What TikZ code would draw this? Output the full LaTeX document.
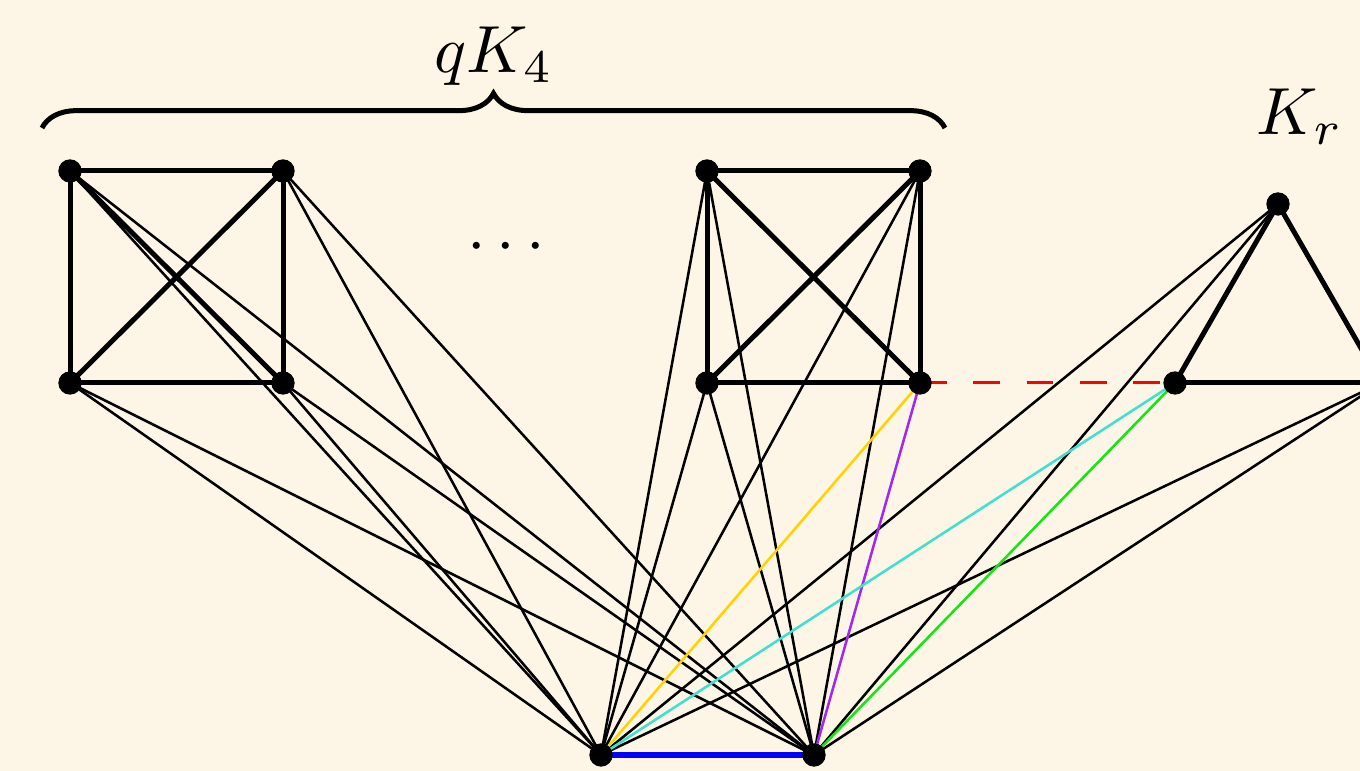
\documentclass[tikz,border=0pt]{standalone}
\usetikzlibrary{decorations.pathreplacing}
\definecolor{bgc}{RGB}{253,246,230}
\definecolor{cgold}{RGB}{255,210,0}
\definecolor{cturq}{RGB}{64,224,208}
\definecolor{clime}{RGB}{20,230,20}
\definecolor{cpurp}{RGB}{160,40,240}
\pgfdeclarelayer{bg}
\pgfdeclarelayer{edges}
\pgfsetlayers{bg,edges,main}
\tikzset{
  vert/.style={circle,fill=black,inner sep=0pt,minimum size=3.5pt},
  thinedge/.style={line width=0.38pt,black},
  thickedge/.style={line width=0.75pt,black},
  coledge/.style={line width=0.38pt},
}
\begin{document}
\begin{tikzpicture}[x=0.15pt,y=-0.15pt]
\begin{pgfonlayer}{bg}
\fill[bgc] (0,0) rectangle (1360,771);
\end{pgfonlayer}
\useasboundingbox (0,0) rectangle (1360,771);
% vertices
\node[vert] (A1) at (70,171) {};
\node[vert] (A2) at (283,171) {};
\node[vert] (A3) at (70,383) {};
\node[vert] (A4) at (283,383) {};
\node[vert] (B1) at (707,171) {};
\node[vert] (B2) at (920,171) {};
\node[vert] (B3) at (707,383) {};
\node[vert] (B4) at (920,383) {};
\node[vert] (C1) at (1278,204) {};
\node[vert] (C2) at (1175,383) {};
\node[vert] (C3) at (1381,383) {};
\node[vert] (U) at (601,755) {};
\node[vert] (V) at (814,755) {};
\begin{pgfonlayer}{edges}
% thin edges
\foreach \n in {A1,A2,A3,A4,B1,B2,B3,C1,C3}{
  \draw[thinedge] (\n.center) -- (U.center);
  \draw[thinedge] (\n.center) -- (V.center);
}
\draw[coledge,cgold] (B4.center) -- (U.center);
\draw[coledge,cpurp] (B4.center) -- (V.center);
\draw[coledge,cturq] (C2.center) -- (U.center);
\draw[coledge,clime] (C2.center) -- (V.center);
\draw[line width=0.45pt,red,dash pattern=on 4pt off 4pt] (B4.center) -- (C2.center);
\draw[line width=0.9pt,blue] (U.center) -- (V.center);
% thick edges
\foreach \a/\b in {A1/A2,A1/A3,A1/A4,A2/A3,A2/A4,A3/A4,B1/B2,B1/B3,B1/B4,B2/B3,B2/B4,B3/B4,C1/C2,C1/C3,C2/C3}{
  \draw[thickedge] (\a.center) -- (\b.center);
}
\end{pgfonlayer}
% brace and labels
\coordinate (bl) at (42,128);
\coordinate (br) at (945,128);
\draw[line width=0.75pt,decorate,decoration={brace,amplitude=5.2pt}] (bl) -- (br);
\node[anchor=base,inner sep=0pt] (qk) at (494,73) {$qK_4$};
\node[anchor=base,inner sep=0pt] (kr) at (1300,135) {$K_r$};
\node[inner sep=0pt] (dots) at (506,248) {$\cdots$};
\end{tikzpicture}
\end{document}
